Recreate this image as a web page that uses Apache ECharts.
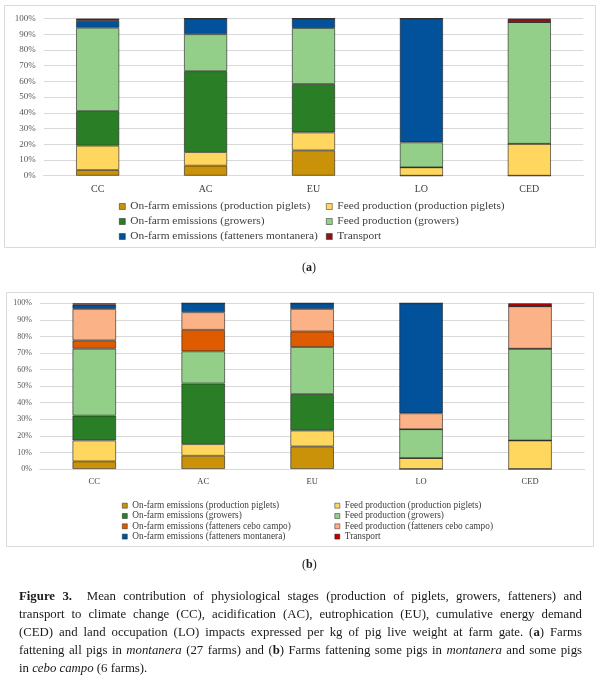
<!DOCTYPE html>
<html>
<head>
<meta charset="utf-8">
<script src="https://cdn.jsdelivr.net/npm/echarts@6/dist/echarts.min.js"></script>
<style>
  html, body { margin:0; padding:0; background:#fff; }
  #wrap { position:relative; width:600px; height:683px; overflow:hidden; }
  #chart { position:absolute; left:0; top:0; width:600px; height:683px; }
  #caption { position:absolute; left:19px; top:588px; width:563px;
    font-family:'Liberation Serif','Times New Roman',serif; font-size:12.8px; line-height:17.9px; color:#1a1a1a; }
  #caption div { white-space:nowrap; text-align:justify; text-align-last:justify; }
  #caption div.last { text-align-last:left; }
</style>
</head>
<body>
<div id="wrap">
  <div id="chart"></div>
  <div id="caption">
    <div><b>Figure 3.</b>&nbsp; Mean contribution of physiological stages (production of piglets, growers, fatteners) and</div>
    <div>transport to climate change (CC), acidification (AC), eutrophication (EU), cumulative energy demand</div>
    <div>(CED) and land occupation (LO) impacts expressed per kg of pig live weight at farm gate. (<b>a</b>) Farms</div>
    <div>fattening all pigs in <i>montanera</i> (27 farms) and (<b>b</b>) Farms fattening some pigs in <i>montanera</i> and some pigs</div>
    <div class="last">in <i>cebo campo</i> (6 farms).</div>
  </div>
</div>
<script>
// ---------- data ----------
const categories = ['CC', 'AC', 'EU', 'LO', 'CED'];
const yTicks = [0, 10, 20, 30, 40, 50, 60, 70, 80, 90, 100];

const nPigletsOnFarm = 'On-farm emissions (production piglets)';
const nPigletsFeed   = 'Feed production (production piglets)';
const nGrowersOnFarm = 'On-farm emissions (growers)';
const nGrowersFeed   = 'Feed production (growers)';
const nCeboOnFarm    = 'On-farm emissions (fatteners cebo campo)';
const nCeboFeed      = 'Feed production (fatteners cebo campo)';
const nMontOnFarm    = 'On-farm emissions (fatteners montanera)';
const nTransport     = 'Transport';

// (a) Farms fattening all pigs in montanera  (% contribution)
const a_pigletsOnFarm = [3.6, 6.4, 16.1, 0, 0];
const a_pigletsFeed   = [15.5, 8.6, 11.4, 5.3, 20.3];
const a_growersOnFarm = [22.0, 51.5, 30.8, 0, 0];
const a_growersFeed   = [53.0, 23.5, 35.6, 15.9, 77.4];
const a_montOnFarm    = [4.4, 10.0, 6.1, 78.8, 0];
const a_transport     = [1.5, 0, 0, 0, 2.3];

// (b) Farms fattening some pigs in montanera and some in cebo campo
const b_pigletsOnFarm = [4.6, 8.0, 13.6, 0, 0];
const b_pigletsFeed   = [12.6, 7.0, 9.6, 6.6, 17.2];
const b_growersOnFarm = [15.0, 36.6, 22.0, 0, 0];
const b_growersFeed   = [40.4, 19.4, 28.4, 17.4, 55.4];
const b_ceboOnFarm    = [5.0, 13.0, 9.4, 0, 0];
const b_ceboFeed      = [19.0, 10.6, 13.6, 9.6, 25.6];
const b_montOnFarm    = [2.6, 5.4, 3.4, 66.4, 0];
const b_transport     = [0.8, 0, 0, 0, 1.8];

// ---------- styles ----------
const C = {
  pigletsOnFarm: '#C99208',
  pigletsFeed:   '#FFD75E',
  growersOnFarm: '#2A7F26',
  growersFeed:   '#93CF89',
  ceboOnFarm:    '#DE5B00',
  ceboFeed:      '#FBB287',
  montOnFarm:    '#02529B',
  transportA:    '#8E1515',
  transportB:    '#C00000'
};
const SERIF = "'Liberation Serif','Times New Roman',serif";

function bar(name, data, color, idx, stack) {
  return {
    name: name, type: 'bar', stack: stack, data: data,
    xAxisIndex: idx, yAxisIndex: idx, barWidth: '40%',
    itemStyle: { color: color, borderColor: 'rgba(30,30,30,0.75)', borderWidth: 0.8 },
    emphasis: { disabled: true }, animation: false
  };
}

function xAx(idx, fs, margin) {
  return {
    type: 'category', gridIndex: idx, data: categories,
    axisLine: { lineStyle: { color: '#D9D9D9' } }, axisTick: { show: false },
    axisLabel: { fontFamily: SERIF, fontSize: fs, color: '#404040', margin: margin }
  };
}
function yAx(idx, fs) {
  return {
    type: 'value', gridIndex: idx, min: yTicks[0], max: yTicks[yTicks.length - 1],
    interval: yTicks[1] - yTicks[0],
    axisLine: { show: false }, axisTick: { show: false },
    splitLine: { lineStyle: { color: '#D9D9D9', width: 1 } },
    axisLabel: { formatter: '{value}%', fontFamily: SERIF, fontSize: fs, color: '#595959', margin: 8 }
  };
}

function legend(left, top, names, fs, lh, gap, iw, extra) {
  return {
    orient: 'vertical', left: left, top: top, padding: 0,
    itemWidth: iw, itemHeight: iw, itemGap: gap, icon: 'rect', selectedMode: false,
    textStyle: { fontFamily: SERIF, fontSize: fs, lineHeight: lh, color: '#404040' },
    itemStyle: { borderColor: 'rgba(30,30,30,0.8)', borderWidth: 0.6 },
    data: names.map(n => (extra && extra[n]) ? { name: n, itemStyle: extra[n] } : n)
  };
}

const chart = echarts.init(document.getElementById('chart'), null, { renderer: 'canvas' });

const option = {
  backgroundColor: '#ffffff',
  animation: false,
  grid: [
    { left: 43.7, right: 16.7, top: 18.5, height: 157.2 },
    { left: 39.8, right: 15.5, top: 303.3, height: 165.7 }
  ],
  xAxis: [xAx(0, 10, 8.3), xAx(1, 8.5, 7.8)],
  yAxis: [yAx(0, 9), yAx(1, 8)],
  legend: [
    legend(119, 200.5, [nPigletsOnFarm, nGrowersOnFarm, nMontOnFarm], 11.4, 12, 3, 6),
    legend(326, 200.5, [nPigletsFeed, nGrowersFeed, nTransport], 11.4, 12, 3, 6,
      { [nTransport]: { color: C.transportA } }),
    legend(122, 500.7, [nPigletsOnFarm, nGrowersOnFarm, nCeboOnFarm, nMontOnFarm], 9.3, 10, 0.3, 5),
    legend(334.5, 500.7, [nPigletsFeed, nGrowersFeed, nCeboFeed, nTransport], 9.3, 10, 0.3, 5,
      { [nTransport]: { color: C.transportB } })
  ],
  series: [
    bar(nPigletsOnFarm, a_pigletsOnFarm, C.pigletsOnFarm, 0, 'a'),
    bar(nPigletsFeed,   a_pigletsFeed,   C.pigletsFeed,   0, 'a'),
    bar(nGrowersOnFarm, a_growersOnFarm, C.growersOnFarm, 0, 'a'),
    bar(nGrowersFeed,   a_growersFeed,   C.growersFeed,   0, 'a'),
    bar(nMontOnFarm,    a_montOnFarm,    C.montOnFarm,    0, 'a'),
    bar(nTransport,     a_transport,     C.transportA,    0, 'a'),

    bar(nPigletsOnFarm, b_pigletsOnFarm, C.pigletsOnFarm, 1, 'b'),
    bar(nPigletsFeed,   b_pigletsFeed,   C.pigletsFeed,   1, 'b'),
    bar(nGrowersOnFarm, b_growersOnFarm, C.growersOnFarm, 1, 'b'),
    bar(nGrowersFeed,   b_growersFeed,   C.growersFeed,   1, 'b'),
    bar(nCeboOnFarm,    b_ceboOnFarm,    C.ceboOnFarm,    1, 'b'),
    bar(nCeboFeed,      b_ceboFeed,      C.ceboFeed,      1, 'b'),
    bar(nMontOnFarm,    b_montOnFarm,    C.montOnFarm,    1, 'b'),
    bar(nTransport,     b_transport,     C.transportB,    1, 'b')
  ],
  graphic: [
    { type: 'rect', z: -1, silent: true, shape: { x: 4.5, y: 5.5, width: 591, height: 242 },
      style: { fill: 'none', stroke: '#DADADA', lineWidth: 1 } },
    { type: 'rect', z: -1, silent: true, shape: { x: 6.5, y: 292.5, width: 587, height: 254 },
      style: { fill: 'none', stroke: '#DADADA', lineWidth: 1 } },
    { type: 'text', left: 302, top: 262, silent: true,
      style: { text: '({b|a})', fontFamily: SERIF, fontSize: 12, fill: '#1a1a1a',
        rich: { b: { fontWeight: 'bold', fontFamily: SERIF, fontSize: 12, fill: '#1a1a1a' } } } },
    { type: 'text', left: 302, top: 559, silent: true,
      style: { text: '({b|b})', fontFamily: SERIF, fontSize: 12, fill: '#1a1a1a',
        rich: { b: { fontWeight: 'bold', fontFamily: SERIF, fontSize: 12, fill: '#1a1a1a' } } } }
  ]
};
chart.setOption(option);
</script>
</body>
</html>
